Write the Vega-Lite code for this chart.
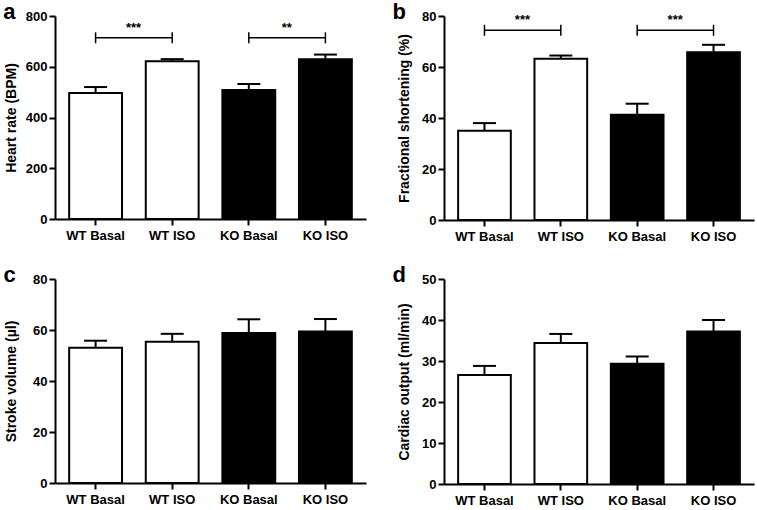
{
  "$schema": "https://vega.github.io/schema/vega-lite/v6.json",
  "background": "white",
  "padding": {"left": 3, "top": 1, "right": 2, "bottom": 2},
  "datasets": {
    "bars": [
      {"panel": "a", "cond": "WT Basal", "genotype": "WT", "mean": 497, "upper": 520},
      {"panel": "a", "cond": "WT ISO", "genotype": "WT", "mean": 622, "upper": 630},
      {"panel": "a", "cond": "KO Basal", "genotype": "KO", "mean": 508, "upper": 532},
      {"panel": "a", "cond": "KO ISO", "genotype": "KO", "mean": 630, "upper": 648},
      {"panel": "b", "cond": "WT Basal", "genotype": "WT", "mean": 35.0, "upper": 38.0},
      {"panel": "b", "cond": "WT ISO", "genotype": "WT", "mean": 63.2, "upper": 64.5},
      {"panel": "b", "cond": "KO Basal", "genotype": "KO", "mean": 41.3, "upper": 45.6},
      {"panel": "b", "cond": "KO ISO", "genotype": "KO", "mean": 65.8, "upper": 68.7},
      {"panel": "c", "cond": "WT Basal", "genotype": "WT", "mean": 53.0, "upper": 55.8},
      {"panel": "c", "cond": "WT ISO", "genotype": "WT", "mean": 55.4, "upper": 58.5},
      {"panel": "c", "cond": "KO Basal", "genotype": "KO", "mean": 58.8, "upper": 64.2},
      {"panel": "c", "cond": "KO ISO", "genotype": "KO", "mean": 59.4, "upper": 64.3},
      {"panel": "d", "cond": "WT Basal", "genotype": "WT", "mean": 26.6, "upper": 28.8},
      {"panel": "d", "cond": "WT ISO", "genotype": "WT", "mean": 34.4, "upper": 36.6},
      {"panel": "d", "cond": "KO Basal", "genotype": "KO", "mean": 29.3, "upper": 31.1},
      {"panel": "d", "cond": "KO ISO", "genotype": "KO", "mean": 37.2, "upper": 40.0}
    ],
    "brackets": [
      {"panel": "a", "from": "WT Basal", "to": "WT ISO", "level": 714, "stars": "***"},
      {"panel": "a", "from": "KO Basal", "to": "KO ISO", "level": 714, "stars": "**"},
      {"panel": "b", "from": "WT Basal", "to": "WT ISO", "level": 74.4, "stars": "***"},
      {"panel": "b", "from": "KO Basal", "to": "KO ISO", "level": 74.4, "stars": "***"}
    ]
  },
  "config": {
    "view": {"stroke": null},
    "font": "Liberation Sans",
    "axis": {
      "grid": false,
      "domainColor": "black",
      "domainWidth": 2,
      "tickColor": "black",
      "tickWidth": 2,
      "tickSize": 6,
      "labelFont": "Liberation Sans",
      "labelFontWeight": "bold",
      "labelFontSize": 13,
      "labelColor": "black",
      "titleFont": "Liberation Sans",
      "titleFontSize": 14,
      "titleFontWeight": "bold",
      "titleColor": "black"
    },
    "axisX": {"labelAngle": 0, "labelPadding": 4},
    "scale": {"bandPaddingInner": 0, "bandPaddingOuter": 0.03},
    "title": {"font": "Liberation Sans", "fontSize": 22, "fontWeight": "bold", "color": "black", "anchor": "start", "frame": "bounds"}
  },
  "columns": 2,
  "spacing": {"column": 26, "row": 21},
  "concat": [
    {
      "title": {"text": "a", "offset": -14, "dx": -1},
      "width": 311, "height": 203,
      "layer": [
        {
          "data": {"name": "bars"},
          "transform": [{"filter": "datum.panel === 'a'"}],
          "mark": {"type": "bar", "stroke": "black", "strokeWidth": 2, "width": {"band": 0.69}},
          "encoding": {
            "x": {"field": "cond", "type": "nominal", "scale": {"domain": ["WT Basal", "WT ISO", "KO Basal", "KO ISO"], "paddingInner": 0, "paddingOuter": 0.03}, "axis": {"title": null}},
            "y": {"field": "mean", "type": "quantitative", "scale": {"domain": [0, 800]}, "axis": {"title": "Heart rate (BPM)", "values": [0, 200, 400, 600, 800], "titlePadding": 7}},
            "fill": {"field": "genotype", "type": "nominal", "scale": {"domain": ["WT", "KO"], "range": ["#ffffff", "#000000"]}, "legend": null}
          }
        },
        {
          "data": {"name": "bars"},
          "transform": [{"filter": "datum.panel === 'a'"}],
          "mark": {"type": "rule", "strokeWidth": 2, "color": "black"},
          "encoding": {
            "x": {"field": "cond", "type": "nominal", "scale": {"domain": ["WT Basal", "WT ISO", "KO Basal", "KO ISO"]}},
            "y": {"field": "mean", "type": "quantitative"},
            "y2": {"field": "upper"}
          }
        },
        {
          "data": {"name": "bars"},
          "transform": [{"filter": "datum.panel === 'a'"}],
          "mark": {"type": "tick", "size": 23, "thickness": 2, "color": "black", "opacity": 1},
          "encoding": {
            "x": {"field": "cond", "type": "nominal", "scale": {"domain": ["WT Basal", "WT ISO", "KO Basal", "KO ISO"]}},
            "y": {"field": "upper", "type": "quantitative"}
          }
        },
        {
          "data": {"name": "brackets"},
          "transform": [{"filter": "datum.panel === 'a'"}],
          "mark": {"type": "rule", "strokeWidth": 1.5, "color": "black"},
          "encoding": {
            "x": {"field": "from", "type": "nominal", "scale": {"domain": ["WT Basal", "WT ISO", "KO Basal", "KO ISO"]}},
            "x2": {"field": "to"},
            "y": {"field": "level", "type": "quantitative"}
          }
        },
        {
          "data": {"name": "brackets"},
          "transform": [{"filter": "datum.panel === 'a'"}],
          "mark": {"type": "tick", "orient": "vertical", "size": 11, "thickness": 1.5, "color": "black", "opacity": 1},
          "encoding": {
            "x": {"field": "from", "type": "nominal", "scale": {"domain": ["WT Basal", "WT ISO", "KO Basal", "KO ISO"]}},
            "y": {"field": "level", "type": "quantitative"}
          }
        },
        {
          "data": {"name": "brackets"},
          "transform": [{"filter": "datum.panel === 'a'"}],
          "mark": {"type": "tick", "orient": "vertical", "size": 11, "thickness": 1.5, "color": "black", "opacity": 1},
          "encoding": {
            "x": {"field": "to", "type": "nominal", "scale": {"domain": ["WT Basal", "WT ISO", "KO Basal", "KO ISO"]}},
            "y": {"field": "level", "type": "quantitative"}
          }
        },
        {
          "data": {"name": "brackets"},
          "transform": [{"filter": "datum.panel === 'a'"}],
          "mark": {"type": "text", "dx": 38, "dy": -10, "fontSize": 13, "fontWeight": "bold", "color": "black", "baseline": "middle"},
          "encoding": {
            "x": {"field": "from", "type": "nominal", "scale": {"domain": ["WT Basal", "WT ISO", "KO Basal", "KO ISO"]}},
            "y": {"field": "level", "type": "quantitative"},
            "text": {"field": "stars"}
          }
        }
      ]
    },
    {
      "title": {"text": "b", "offset": -14, "dx": -5},
      "width": 310, "height": 204,
      "layer": [
        {
          "data": {"name": "bars"},
          "transform": [{"filter": "datum.panel === 'b'"}],
          "mark": {"type": "bar", "stroke": "black", "strokeWidth": 2, "width": {"band": 0.69}},
          "encoding": {
            "x": {"field": "cond", "type": "nominal", "scale": {"domain": ["WT Basal", "WT ISO", "KO Basal", "KO ISO"], "paddingInner": 0, "paddingOuter": 0.03}, "axis": {"title": null}},
            "y": {"field": "mean", "type": "quantitative", "scale": {"domain": [0, 80]}, "axis": {"title": "Fractional shortening (%)", "values": [0, 20, 40, 60, 80], "titlePadding": 10}},
            "fill": {"field": "genotype", "type": "nominal", "scale": {"domain": ["WT", "KO"], "range": ["#ffffff", "#000000"]}, "legend": null}
          }
        },
        {
          "data": {"name": "bars"},
          "transform": [{"filter": "datum.panel === 'b'"}],
          "mark": {"type": "rule", "strokeWidth": 2, "color": "black"},
          "encoding": {
            "x": {"field": "cond", "type": "nominal", "scale": {"domain": ["WT Basal", "WT ISO", "KO Basal", "KO ISO"]}},
            "y": {"field": "mean", "type": "quantitative"},
            "y2": {"field": "upper"}
          }
        },
        {
          "data": {"name": "bars"},
          "transform": [{"filter": "datum.panel === 'b'"}],
          "mark": {"type": "tick", "size": 23, "thickness": 2, "color": "black", "opacity": 1},
          "encoding": {
            "x": {"field": "cond", "type": "nominal", "scale": {"domain": ["WT Basal", "WT ISO", "KO Basal", "KO ISO"]}},
            "y": {"field": "upper", "type": "quantitative"}
          }
        },
        {
          "data": {"name": "brackets"},
          "transform": [{"filter": "datum.panel === 'b'"}],
          "mark": {"type": "rule", "strokeWidth": 1.5, "color": "black"},
          "encoding": {
            "x": {"field": "from", "type": "nominal", "scale": {"domain": ["WT Basal", "WT ISO", "KO Basal", "KO ISO"]}},
            "x2": {"field": "to"},
            "y": {"field": "level", "type": "quantitative"}
          }
        },
        {
          "data": {"name": "brackets"},
          "transform": [{"filter": "datum.panel === 'b'"}],
          "mark": {"type": "tick", "orient": "vertical", "size": 11, "thickness": 1.5, "color": "black", "opacity": 1},
          "encoding": {
            "x": {"field": "from", "type": "nominal", "scale": {"domain": ["WT Basal", "WT ISO", "KO Basal", "KO ISO"]}},
            "y": {"field": "level", "type": "quantitative"}
          }
        },
        {
          "data": {"name": "brackets"},
          "transform": [{"filter": "datum.panel === 'b'"}],
          "mark": {"type": "tick", "orient": "vertical", "size": 11, "thickness": 1.5, "color": "black", "opacity": 1},
          "encoding": {
            "x": {"field": "to", "type": "nominal", "scale": {"domain": ["WT Basal", "WT ISO", "KO Basal", "KO ISO"]}},
            "y": {"field": "level", "type": "quantitative"}
          }
        },
        {
          "data": {"name": "brackets"},
          "transform": [{"filter": "datum.panel === 'b'"}],
          "mark": {"type": "text", "dx": 38, "dy": -10, "fontSize": 13, "fontWeight": "bold", "color": "black", "baseline": "middle"},
          "encoding": {
            "x": {"field": "from", "type": "nominal", "scale": {"domain": ["WT Basal", "WT ISO", "KO Basal", "KO ISO"]}},
            "y": {"field": "level", "type": "quantitative"},
            "text": {"field": "stars"}
          }
        }
      ]
    },
    {
      "title": {"text": "c", "offset": -14, "dx": -1},
      "width": 311, "height": 204,
      "layer": [
        {
          "data": {"name": "bars"},
          "transform": [{"filter": "datum.panel === 'c'"}],
          "mark": {"type": "bar", "stroke": "black", "strokeWidth": 2, "width": {"band": 0.69}},
          "encoding": {
            "x": {"field": "cond", "type": "nominal", "scale": {"domain": ["WT Basal", "WT ISO", "KO Basal", "KO ISO"], "paddingInner": 0, "paddingOuter": 0.03}, "axis": {"title": null}},
            "y": {"field": "mean", "type": "quantitative", "scale": {"domain": [0, 80]}, "axis": {"title": "Stroke volume (µl)", "values": [0, 20, 40, 60, 80], "titlePadding": 14}},
            "fill": {"field": "genotype", "type": "nominal", "scale": {"domain": ["WT", "KO"], "range": ["#ffffff", "#000000"]}, "legend": null}
          }
        },
        {
          "data": {"name": "bars"},
          "transform": [{"filter": "datum.panel === 'c'"}],
          "mark": {"type": "rule", "strokeWidth": 2, "color": "black"},
          "encoding": {
            "x": {"field": "cond", "type": "nominal", "scale": {"domain": ["WT Basal", "WT ISO", "KO Basal", "KO ISO"]}},
            "y": {"field": "mean", "type": "quantitative"},
            "y2": {"field": "upper"}
          }
        },
        {
          "data": {"name": "bars"},
          "transform": [{"filter": "datum.panel === 'c'"}],
          "mark": {"type": "tick", "size": 23, "thickness": 2, "color": "black", "opacity": 1},
          "encoding": {
            "x": {"field": "cond", "type": "nominal", "scale": {"domain": ["WT Basal", "WT ISO", "KO Basal", "KO ISO"]}},
            "y": {"field": "upper", "type": "quantitative"}
          }
        }
      ]
    },
    {
      "title": {"text": "d", "offset": -14, "dx": -5},
      "width": 310, "height": 205,
      "layer": [
        {
          "data": {"name": "bars"},
          "transform": [{"filter": "datum.panel === 'd'"}],
          "mark": {"type": "bar", "stroke": "black", "strokeWidth": 2, "width": {"band": 0.69}},
          "encoding": {
            "x": {"field": "cond", "type": "nominal", "scale": {"domain": ["WT Basal", "WT ISO", "KO Basal", "KO ISO"], "paddingInner": 0, "paddingOuter": 0.03}, "axis": {"title": null}},
            "y": {"field": "mean", "type": "quantitative", "scale": {"domain": [0, 50]}, "axis": {"title": "Cardiac output (ml/min)", "values": [0, 10, 20, 30, 40, 50], "titlePadding": 10}},
            "fill": {"field": "genotype", "type": "nominal", "scale": {"domain": ["WT", "KO"], "range": ["#ffffff", "#000000"]}, "legend": null}
          }
        },
        {
          "data": {"name": "bars"},
          "transform": [{"filter": "datum.panel === 'd'"}],
          "mark": {"type": "rule", "strokeWidth": 2, "color": "black"},
          "encoding": {
            "x": {"field": "cond", "type": "nominal", "scale": {"domain": ["WT Basal", "WT ISO", "KO Basal", "KO ISO"]}},
            "y": {"field": "mean", "type": "quantitative"},
            "y2": {"field": "upper"}
          }
        },
        {
          "data": {"name": "bars"},
          "transform": [{"filter": "datum.panel === 'd'"}],
          "mark": {"type": "tick", "size": 23, "thickness": 2, "color": "black", "opacity": 1},
          "encoding": {
            "x": {"field": "cond", "type": "nominal", "scale": {"domain": ["WT Basal", "WT ISO", "KO Basal", "KO ISO"]}},
            "y": {"field": "upper", "type": "quantitative"}
          }
        }
      ]
    }
  ]
}
